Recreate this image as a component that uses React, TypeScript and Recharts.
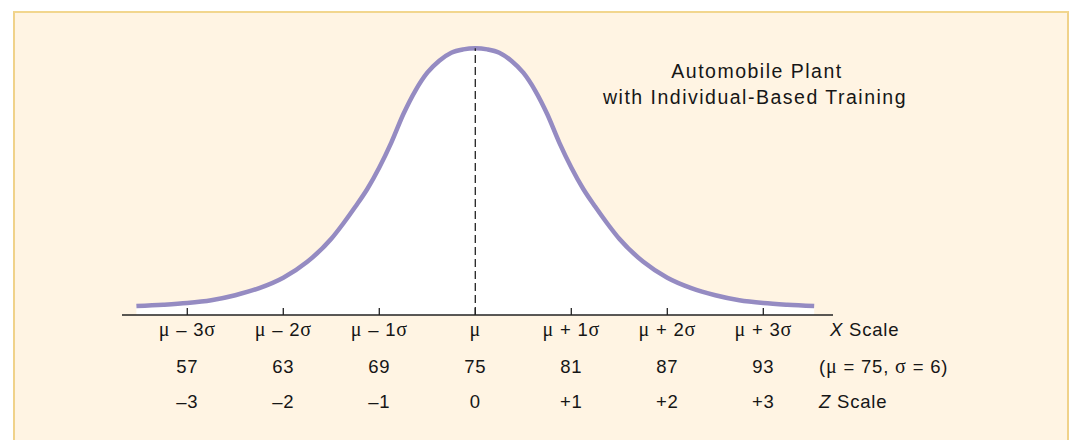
import { ComposedChart, Area, XAxis, YAxis, ReferenceLine } from "recharts";

// curve: z position and height above the axis line
const zValues = [
  -3.53, -3.25, -3, -2.75, -2.5, -2.25, -2, -1.75, -1.5, -1.375, -1.25, -1.125, -1, -0.875,
  -0.75, -0.625, -0.5, -0.375, -0.25, -0.125, 0, 0.125, 0.25, 0.375, 0.5, 0.625, 0.75, 0.875,
  1, 1.125, 1.25, 1.375, 1.5, 1.75, 2, 2.25, 2.5, 2.75, 3, 3.25, 3.53,
];
const heights = [
  9, 10.3, 12, 14.8, 19.8, 26.9, 37.3, 53.2, 76.2, 91.5, 108.2, 126, 147.5, 172.4,
  200.7, 224.2, 242.3, 254.3, 262.3, 265.6, 266.7, 265.6, 262.3, 254.3, 242.3, 224.2, 200.7, 172.4,
  147.5, 126, 108.2, 91.5, 76.2, 53.2, 37.3, 26.9, 19.8, 14.8, 12, 10.3, 9,
];

const tickZ = [-3, -2, -1, 0, 1, 2, 3];
const sigmaLabels = ["μ – 3σ", "μ – 2σ", "μ – 1σ", "μ", "μ + 1σ", "μ + 2σ", "μ + 3σ"];
const xScaleLabels = ["57", "63", "69", "75", "81", "87", "93"];
const zScaleLabels = ["–3", "–2", "–1", "0", "+1", "+2", "+3"];
const titleLines = ["Automobile Plant", "with Individual-Based Training"];

const curve = zValues.map((z, i) => ({ z, h: heights[i] }));
const peak = Math.max(...heights);

const SANS = "'Liberation Sans', Arial, sans-serif";
const SERIF = "'Liberation Serif', 'Times New Roman', serif";
const INK = "#161616";

// μ and σ are set in a serif face, the rest in sans
function greek(label: string) {
  return label.split("").map((ch, i) =>
    ch === "μ" || ch === "σ" ? (
      <tspan key={i} fontFamily={SERIF} fontSize={20}>
        {ch}
      </tspan>
    ) : (
      <tspan key={i}>{ch}</tspan>
    )
  );
}

function XTick(props: any) {
  const { x, y, payload } = props;
  const i = tickZ.indexOf(payload.value);
  const common = {
    x,
    textAnchor: "middle" as const,
    fontFamily: SANS,
    fontSize: 18.5,
    fill: INK,
    letterSpacing: 0.8,
  };
  return (
    <g>
      <line x1={x} x2={x} y1={y - 7} y2={y} stroke="#222" strokeWidth={1.3} />
      <text {...common} y={y + 21}>
        {greek(sigmaLabels[i])}
      </text>
      <text {...common} y={y + 58}>
        {xScaleLabels[i]}
      </text>
      <text {...common} y={y + 93}>
        {zScaleLabels[i]}
      </text>
    </g>
  );
}

export default function App() {
  return (
    <div style={{ position: "absolute", left: 0, top: 0, width: 1072, height: 440, background: "#fff", overflow: "hidden" }}>
      <div
        style={{
          position: "absolute",
          left: 13,
          top: 11,
          width: 1052,
          height: 460,
          background: "#fff4e3",
          borderTop: "2px solid #f2d68e",
          borderLeft: "2px solid #f0d28a",
          borderRight: "2px solid #f0d28a",
        }}
      />
      <div style={{ position: "absolute", left: 0, top: 0 }}>
        <ComposedChart
          width={1072}
          height={440}
          data={curve}
          margin={{ top: 35, right: 239, bottom: 25, left: 122 }}
        >
          <XAxis
            type="number"
            dataKey="z"
            domain={[-3.68, 3.726]}
            ticks={tickZ}
            interval={0}
            allowDataOverflow
            height={100}
            tickSize={0}
            tickMargin={0}
            tickLine={false}
            axisLine={{ stroke: "#222", strokeWidth: 1.3 }}
            tick={<XTick />}
          />
          <YAxis hide type="number" domain={[0, 280]} allowDataOverflow />
          <Area
            type="monotone"
            dataKey="h"
            baseValue={0}
            stroke="#958bc2"
            strokeWidth={4.5}
            fill="#ffffff"
            fillOpacity={1}
            dot={false}
            activeDot={false}
            isAnimationActive={false}
          />
          <ReferenceLine
            segment={[
              { x: 0, y: 0 },
              { x: 0, y: peak },
            ]}
            stroke="#222"
            strokeWidth={1.3}
            strokeDasharray="8 4"
          />
        </ComposedChart>
      </div>
      <svg width={1072} height={440} style={{ position: "absolute", left: 0, top: 0, pointerEvents: "none" }}>
        <g fontFamily={SANS} fill={INK}>
          <text x={757} y={78} textAnchor="middle" fontSize={19.5} letterSpacing={1.5}>
            {titleLines[0]}
          </text>
          <text x={755} y={104} textAnchor="middle" fontSize={19.5} letterSpacing={1.5}>
            {titleLines[1]}
          </text>
          <text x={830} y={336} fontSize={18.5} letterSpacing={0.8}>
            <tspan fontStyle="italic">X</tspan> Scale
          </text>
          <text x={819} y={373} fontSize={18.5} letterSpacing={0.8}>
            {greek("(μ = 75, σ = 6)")}
          </text>
          <text x={819} y={408} fontSize={18.5} letterSpacing={0.8}>
            <tspan fontStyle="italic">Z</tspan> Scale
          </text>
        </g>
      </svg>
    </div>
  );
}
